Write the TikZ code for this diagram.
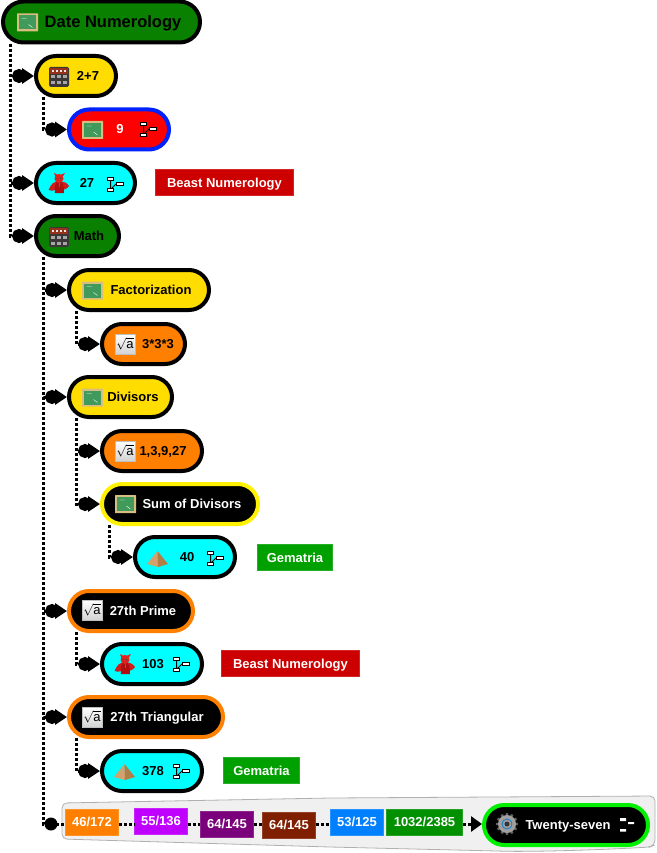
\documentclass[tikz,border=0pt]{standalone}
\usepackage{fontspec}
\setmainfont{Liberation Sans}
\usetikzlibrary{arrows.meta,shapes.misc,calc}
\definecolor{cgreen}{HTML}{0A8000}
\definecolor{cyellow}{HTML}{FFDD00}
\definecolor{corange}{HTML}{FF8000}
\definecolor{cblue}{HTML}{0022FF}
\definecolor{ccyan}{HTML}{00FFFF}
\definecolor{tred}{HTML}{CC0000}
\definecolor{tgreen}{HTML}{00A000}
\definecolor{bandfill}{HTML}{F0F0F0}
\definecolor{bandline}{HTML}{B0B0B0}
\definecolor{tpurple}{HTML}{BF00FF}
\definecolor{tplum}{HTML}{7B007B}
\definecolor{tbrown}{HTML}{7F1F00}
\definecolor{tsky}{HTML}{0080FF}
\definecolor{tleaf}{HTML}{009000}
\definecolor{lime}{HTML}{00EE00}
\definecolor{wood}{HTML}{D9BC80}
\definecolor{slate}{HTML}{3F9A5C}
\definecolor{calcbody}{HTML}{3C3737}
\definecolor{calctop}{HTML}{963219}
\definecolor{devila}{HTML}{D01C1C}
\definecolor{devilb}{HTML}{AF0F0F}
\definecolor{devilc}{HTML}{E1231E}
\definecolor{pyra}{HTML}{D2A26C}
\definecolor{pyrb}{HTML}{B07E48}
\tikzset{
  pill/.style={rounded rectangle,draw=black,line width=4pt,minimum height=40pt,inner sep=0pt,fill=#1},
  lab/.style={font=\fontsize{13}{15}\selectfont\bfseries,inner sep=0pt,text=black,text height=9.3pt,text depth=0pt},
  wlab/.style={lab,text=white},
  tagbox/.style={rectangle,fill=#1,draw=#1!85!white,line width=.8pt,text=white,inner sep=0pt,minimum height=26pt,text height=9.3pt,text depth=0pt,font=\fontsize{13}{15}\selectfont\bfseries},
  conn/.style={line width=3pt,dash pattern=on 3pt off 2pt,
    -{Circle[length=14pt,width=14pt,sep=-4pt]Triangle[length=12pt,width=15pt]}},
  plainconn/.style={line width=3pt,dash pattern=on 3pt off 2pt},
}
\newcommand\iboard[1]{\begin{scope}[shift={(#1)}]
  \fill[rounded corners=.5pt,fill=wood] (-10.5,-9) rectangle (10.5,9);
  \fill[fill=slate] (-8.5,-7) rectangle (8.5,7);
  \draw[white,line width=.4pt] (-6,-4)--(-1,-4) (1,2)--(5,5);
\end{scope}}
\newcommand\icalc[1]{\begin{scope}[shift={(#1)}]
  \fill[rounded corners=1.5pt,fill=calcbody] (-10,-10) rectangle (10,10);
  \fill[fill=calctop] (-9,-9) rectangle (9,-3);
  \foreach \x in {-6,0,6}{\foreach \y in {0,6}{\fill[gray!70] (\x-2,\y-1.5) rectangle (\x+2,\y+1.5);}}
  \foreach \x in {-6,-2,2,6}{\fill[white!80!gray] (\x-1,-7) rectangle (\x+1,-5);}
\end{scope}}
\newcommand\idevil[1]{\begin{scope}[shift={(#1)}]
  \fill[fill=devila] (-10.5,7) .. controls (-8,1) and (-5,-2) .. (-1,-1) -- (1,-1) .. controls (5,-2) and (8,0) .. (10,3) .. controls (8,6) and (6,6) .. (4,7) -- (-4,7) .. controls (-6,8) and (-8,8) .. (-10.5,7) -- cycle;
  \fill[fill=devilb] (-4,10) .. controls (-5,3) and (-3,-2) .. (0,-2) .. controls (4,-2) and (5,4) .. (5,10) -- cycle;
  \fill[fill=devilc] (0,-4.5) circle[radius=4.5pt];
  \fill[fill=devilc] (-3.5,-6) -- (-5,-10) -- (-1,-8) -- cycle (3.5,-6) -- (6,-10) -- (1,-8) -- cycle;
  \fill[black!70] (-1.5,-4.5) circle[radius=.8pt] (1.5,-4.5) circle[radius=.8pt];
  \draw[black!60,line width=.7pt] (0,0)--(0,4);
\end{scope}}
\newcommand\ipyramid[1]{\begin{scope}[shift={(#1)}]
  \fill[fill=pyra] (0,-8) -- (-10.5,5) -- (0.5,8) -- cycle;
  \fill[fill=pyrb] (0,-8) -- (10.5,5) -- (0.5,8) -- cycle;
\end{scope}}
\newcommand\isqrt[1]{\begin{scope}[shift={(#1)}]
  \shade[top color=white,bottom color=gray!35,draw=gray!50,line width=.4pt] (-10,-10) rectangle (10,10);
  \node[inner sep=0pt,font=\fontsize{13}{13}\selectfont] at (0,0) {$\sqrt{\mathrm{a}}$};
\end{scope}}
\newcommand\igear[1]{\begin{scope}[shift={(#1)}]
  \foreach \a in {0,30,...,330}{\fill[gray!75!black] (\a-9:8.5pt) -- (\a-6:11pt) -- (\a+6:11pt) -- (\a+9:8.5pt) -- cycle;}
  \fill[gray!75] (0,0) circle[radius=9pt];
  \draw[cyan!60!blue,line width=.8pt] (0,0) circle[radius=5pt];
  \fill[gray!40!black] (0,0) circle[radius=2.5pt];
\end{scope}}
\newcommand\imap[1]{\begin{scope}[shift={(#1)}]
  \draw[line width=1pt] (-6.5,-3)--(-6.5,4) (-5,4) -- (-1,0);
  \draw[fill=white,line width=.8pt] (-10,-7) rectangle (-4,-3.5);
  \draw[fill=white,line width=.8pt] (-10,4) rectangle (-4,7.5);
  \draw[fill=white,line width=.8pt] (-1,-2) rectangle (6,1.5);
\end{scope}}
\begin{document}
\begin{tikzpicture}[x=1pt,y=-1pt]
\useasboundingbox (0,0) rectangle (656,853);
% connectors under the nodes
\coordinate (t0) at (10,44);
\coordinate (t1) at (43,97);
\coordinate (t2) at (43,257);
\coordinate (t3) at (76,311);
\coordinate (t4) at (76,418);
\coordinate (t5) at (109,525);
\coordinate (t6) at (76,632);
\coordinate (t7) at (76,738);
\coordinate (chainstart) at (51,824);
\node[pill=cgreen,minimum width=197pt,minimum height=41pt] (root) at (101.5,22) {};
\node[pill=cyellow,minimum width=80pt] (sum27) at (76,76) {};
\node[pill=red,draw=cblue,minimum width=100pt] (nine) at (119,129.5) {};
\node[pill=ccyan,minimum width=99pt] (twseven) at (85.5,183) {};
\node[pill=cgreen,minimum width=83pt] (math) at (77.5,236) {};
\node[pill=cyellow,minimum width=140pt] (fact) at (139,290) {};
\node[pill=corange,minimum width=83pt] (threes) at (143.5,344) {};
\node[pill=cyellow,minimum width=103pt] (divs) at (120.5,397) {};
\node[pill=corange,minimum width=100pt] (dlist) at (152,451) {};
\node[pill=black,draw=yellow,minimum width=156pt] (sumdiv) at (180,504) {};
\node[pill=ccyan,minimum width=100pt] (forty) at (185,557) {};
\node[pill=black,draw=corange,minimum width=124pt] (prime) at (131,611) {};
\node[pill=ccyan,minimum width=100pt] (p103) at (152,664) {};
\node[pill=black,draw=corange,minimum width=154pt] (tri) at (146,717) {};
\node[pill=ccyan,minimum width=100pt] (t378) at (152,771) {};
\draw[conn] (t0) |- (sum27);
\draw[conn] (t0) |- (twseven);
\draw[conn] (t0) |- (math);
\draw[conn] (t1) |- (nine);
\draw[conn] (t2) |- (fact);
\draw[conn] (t2) |- (divs);
\draw[conn] (t2) |- (prime);
\draw[conn] (t2) |- (tri);
\draw[conn] (t3) |- (threes);
\draw[conn] (t4) |- (dlist);
\draw[conn] (t4) |- (sumdiv);
\draw[conn] (t5) |- (forty);
\draw[conn] (t6) |- (p103);
\draw[conn] (t7) |- (t378);
\draw[plainconn] (t2) |- (chainstart);
\fill (chainstart) circle[radius=6.5pt];
% band
\draw[fill=bandfill,draw=bandline,line width=.8pt,rounded corners=5pt]
  (62,803) -- (330,798) -- (655,796) -- (655,845) -- (650,847)
  .. controls (600,850) and (530,852) .. (497,851) -- (330,847) -- (62,839) -- cycle;
% chain nodes
\node[tagbox=corange,minimum width=53pt] (n1) at (92,822) {46/172};
\node[tagbox=tpurple,minimum width=53pt] (n2) at (161,821) {55/136};
\node[tagbox=tplum,minimum width=53pt] (n3) at (227,824) {64/145};
\node[tagbox=tbrown,minimum width=53pt] (n4) at (289,825) {64/145};
\node[tagbox=tsky,minimum width=53pt] (n5) at (357,822) {53/125};
\node[tagbox=tleaf,minimum width=76pt] (n6) at (424.5,822) {1032/2385};
\node[pill=black,draw=lime,minimum width=164pt] (n7) at (566,825) {};
\draw[plainconn] (chainstart) -- (n1.west |- chainstart);
\draw[plainconn] (n1.east |- chainstart) -- (n2.west |- chainstart);
\draw[plainconn] (n2.east |- chainstart) -- (n3.west |- chainstart);
\draw[plainconn] (n3.east |- chainstart) -- (n4.west |- chainstart);
\draw[plainconn] (n4.east |- chainstart) -- (n5.west |- chainstart);
\draw[plainconn,-{Triangle[length=11pt,width=15pt]}] (n6.east |- chainstart) -- (n7.west |- chainstart);
% tags
\node[tagbox=tred,minimum width=138pt] (beast1) at (224.5,182.5) {Beast Numerology};
\node[tagbox=tgreen,minimum width=75pt] (gem1) at (295,557.5) {Gematria};
\node[tagbox=tred,minimum width=138pt] (beast2) at (290.5,663.5) {Beast Numerology};
\node[tagbox=tgreen,minimum width=76pt] (gem2) at (261.5,770.5) {Gematria};
% labels
\node[lab,font=\fontsize{16.5}{19}\selectfont\bfseries,text height=11.8pt] (lroot) at (113,21.5) {Date Numerology};
\node[lab] (l1) at (88,76) {2+7};
\node[wlab] (l2) at (120,129) {9};
\node[lab] (l3) at (87,183) {27};
\node[lab] (l4) at (89,236) {Math};
\node[lab] (l5) at (151,289.5) {Factorization};
\node[lab] (l6) at (158,344) {3*3*3};
\node[lab] (l7) at (133,396.5) {Divisors};
\node[lab] (l8) at (163,451) {1,3,9,27};
\node[wlab] (l9) at (192,503.5) {Sum of Divisors};
\node[lab] (l10) at (187,557) {40};
\node[wlab] (l11) at (143,610.5) {27th Prime};
\node[lab] (l12) at (153,664) {103};
\node[wlab] (l13) at (157,717) {27th Triangular};
\node[lab] (l14) at (153,771) {378};
\node[wlab] (l15) at (568,824.5) {Twenty-seven};
% icons
\iboard{27.5,22.5}
\iboard{92.5,130}
\iboard{92.5,290.5}
\iboard{92.5,397.5}
\iboard{125.5,504}
\icalc{59,77}
\icalc{59,237}
\idevil{59,183}
\idevil{125,664}
\ipyramid{157.5,559}
\ipyramid{124.5,772}
\isqrt{125,344}
\isqrt{125,451}
\isqrt{92,610}
\isqrt{92,717}
\igear{507,824}
\imap{150,129}
\imap{117,184}
\imap{217,558}
\imap{183,664}
\imap{183,771}
\begin{scope}[shift={(630,825)}]
  \fill[white] (-10,-7) rectangle (-4,-4) (-10,4) rectangle (-4,6.5) (-2,-3) rectangle (4,-1);
\end{scope}
\end{tikzpicture}
\end{document}
